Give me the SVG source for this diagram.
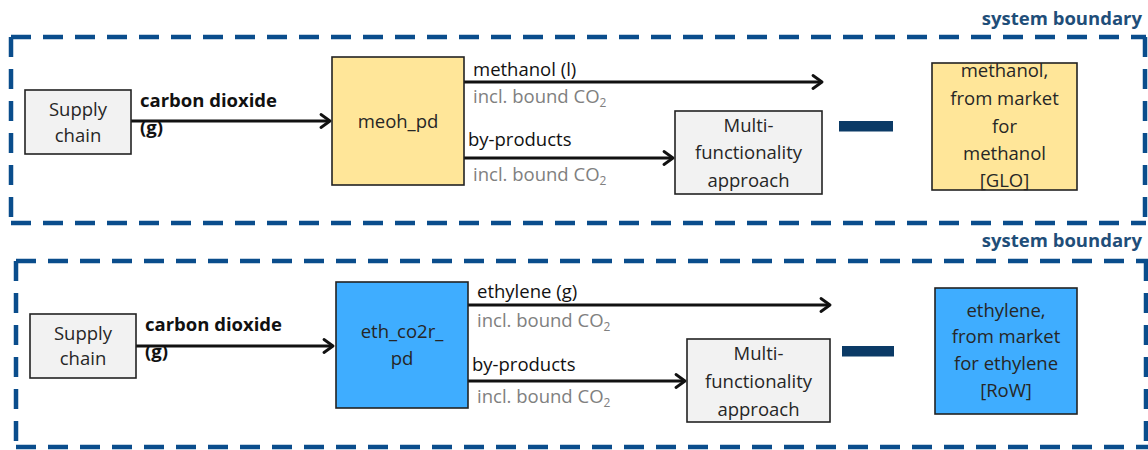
<svg xmlns="http://www.w3.org/2000/svg" width="1148" height="450" viewBox="0 0 1148 450">
<defs>
<style>
text{font-family:"Open Sans","Noto Sans","Liberation Sans",sans-serif;font-size:18.5px;fill:#262626}
.c{text-anchor:middle}
.b{font-weight:bold;fill:#111}
.lbl{fill:#111}
.g{fill:#808080}
.sb{font-weight:bold;fill:#1F4E79;text-anchor:end}
.box{stroke:#222;stroke-width:1.6}
.grey{fill:#F2F2F2}
.yel{fill:#FFE699}
.blu{fill:#3FADFF}
.bnd{stroke:#0A4D8C;stroke-width:4.5;stroke-dasharray:20 12;fill:none}
.bar{fill:#0B3A66}
.con{stroke:#111;stroke-width:2.8;fill:none;marker-end:url(#arr)}
</style>
<marker id="arr" markerWidth="14" markerHeight="16" refX="11" refY="8" orient="auto" markerUnits="userSpaceOnUse">
<path d="M2,1.5 L11,8 L2,14.5" fill="none" stroke="#111" stroke-width="2.8" stroke-linecap="round" stroke-linejoin="round"/>
</marker>
</defs>

<g id="boundary1">
<line class="bnd" x1="11" y1="37" x2="1146" y2="37"/>
<line class="bnd" x1="11" y1="37" x2="11" y2="223"/>
<line class="bnd" x1="11" y1="223" x2="1146" y2="223"/>
<line class="bnd" x1="1145" y1="37" x2="1145" y2="223"/>
<text class="sb" x="1142" y="25">system boundary</text>
</g>
<g id="boundary2">
<line class="bnd" x1="16" y1="261" x2="1148" y2="261"/>
<line class="bnd" x1="16" y1="261" x2="16" y2="447"/>
<line class="bnd" x1="16" y1="447" x2="1148" y2="447"/>
<line class="bnd" x1="1146" y1="261" x2="1146" y2="447"/>
<text class="sb" x="1142" y="247">system boundary</text>
</g>

<g id="connectors">
<line class="con" x1="131" y1="121" x2="330" y2="121"/>
<line class="con" x1="464" y1="82" x2="822" y2="82"/>
<line class="con" x1="464" y1="158" x2="673" y2="158"/>
<line class="con" x1="136" y1="346" x2="333" y2="346"/>
<line class="con" x1="468" y1="305" x2="830" y2="305"/>
<line class="con" x1="468" y1="381" x2="685" y2="381"/>
<text class="b" x="140" y="107">carbon dioxide</text>
<text class="b" x="140" y="134">(g)</text>
<text class="lbl" x="473" y="76">methanol (l)</text>
<text class="g" x="473" y="103">incl. bound CO<tspan font-size="12" dy="4" fill="#808080">2</tspan></text>
<text class="lbl" x="468" y="146">by-products</text>
<text class="g" x="473" y="181">incl. bound CO<tspan font-size="12" dy="4" fill="#808080">2</tspan></text>
<text class="b" x="145" y="331">carbon dioxide</text>
<text class="b" x="145" y="358">(g)</text>
<text class="lbl" x="477" y="298">ethylene (g)</text>
<text class="g" x="477" y="327">incl. bound CO<tspan font-size="12" dy="4" fill="#808080">2</tspan></text>
<text class="lbl" x="472" y="371">by-products</text>
<text class="g" x="477" y="403">incl. bound CO<tspan font-size="12" dy="4" fill="#808080">2</tspan></text>
</g>

<g id="supply1">
<rect class="box grey" x="25" y="90" width="106" height="64"/>
<text class="c" x="78" y="116">Supply</text>
<text class="c" x="78" y="142">chain</text>
</g>
<g id="meoh_pd">
<rect class="box yel" x="332" y="57" width="132" height="128"/>
<text class="c" x="398" y="128">meoh_pd</text>
</g>
<g id="multi1">
<rect class="box grey" x="675" y="111" width="147" height="83"/>
<text class="c" x="748.5" y="132">Multi-</text>
<text class="c" x="748.5" y="159">functionality</text>
<text class="c" x="748.5" y="187">approach</text>
</g>
<g id="equal1">
<rect class="bar" x="839" y="121" width="54" height="10.5"/>
</g>
<g id="market_methanol">
<rect class="box yel" x="932" y="63" width="145" height="127"/>
<text class="c" x="1004.5" y="77">methanol,</text>
<text class="c" x="1004.5" y="105">from market</text>
<text class="c" x="1004.5" y="133">for</text>
<text class="c" x="1004.5" y="160">methanol</text>
<text class="c" x="1004.5" y="187">[GLO]</text>
</g>

<g id="supply2">
<rect class="box grey" x="30" y="314" width="106" height="64"/>
<text class="c" x="83" y="340">Supply</text>
<text class="c" x="83" y="365">chain</text>
</g>
<g id="eth_co2r_pd">
<rect class="box blu" x="336" y="282" width="132" height="126"/>
<text class="c" x="402" y="338">eth_co2r_</text>
<text class="c" x="402" y="365">pd</text>
</g>
<g id="multi2">
<rect class="box grey" x="687" y="339" width="143" height="83"/>
<text class="c" x="758.5" y="360">Multi-</text>
<text class="c" x="758.5" y="388">functionality</text>
<text class="c" x="758.5" y="416">approach</text>
</g>
<g id="equal2">
<rect class="bar" x="842" y="346" width="52" height="10.5"/>
</g>
<g id="market_ethylene">
<rect class="box blu" x="935" y="288" width="142" height="126"/>
<text class="c" x="1006" y="317">ethylene,</text>
<text class="c" x="1006" y="343">from market</text>
<text class="c" x="1006" y="370">for ethylene</text>
<text class="c" x="1006" y="397">[RoW]</text>
</g>
</svg>
